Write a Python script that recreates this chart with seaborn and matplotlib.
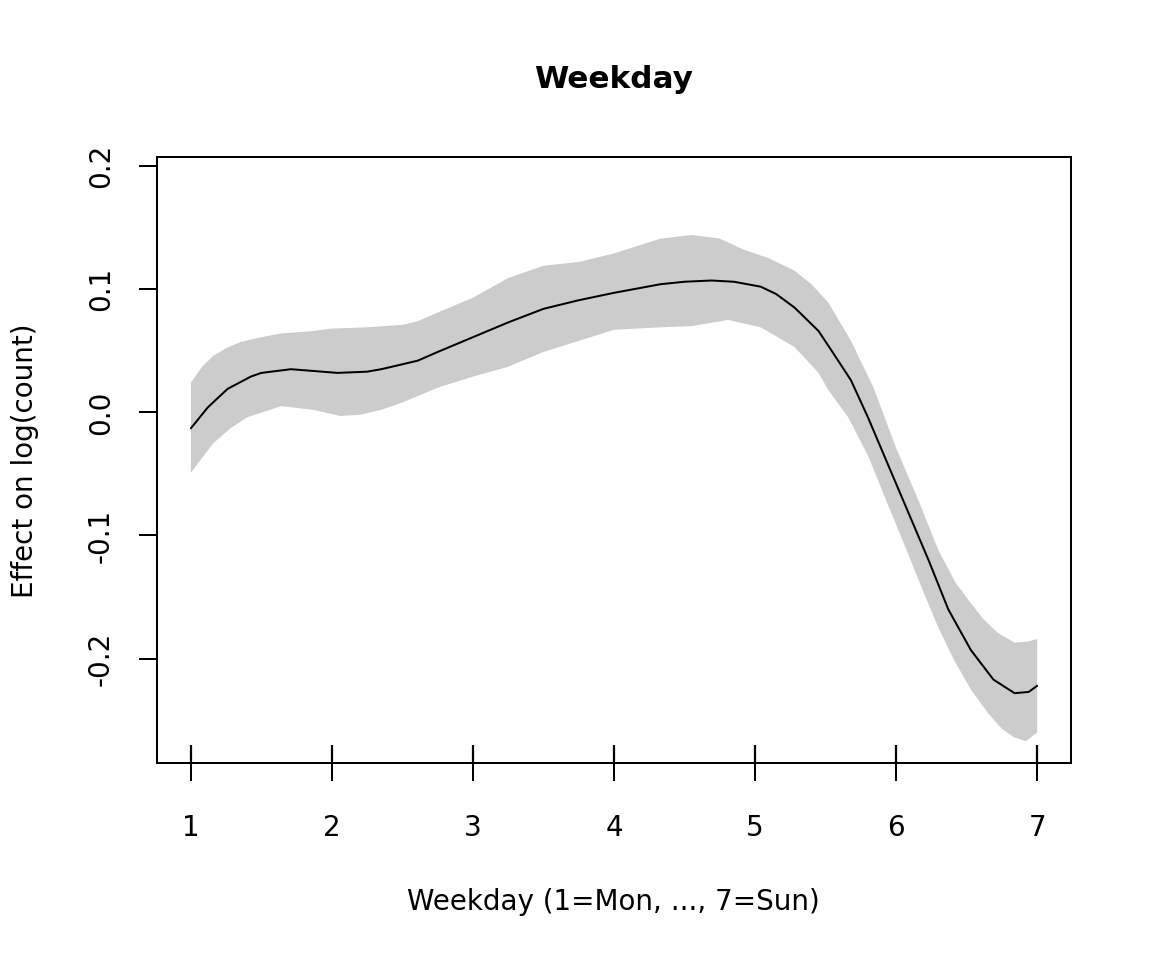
import numpy as np
import pandas as pd
import matplotlib
matplotlib.use("Agg")
import matplotlib.pyplot as plt
import seaborn as sns

# smooth effect of weekday
line_x = [1.0, 1.12, 1.26, 1.425, 1.5, 1.71, 2.04, 2.25, 2.35, 2.5, 2.61,
          2.75, 3.0, 3.25, 3.5, 3.75, 4.0, 4.33, 4.5, 4.69, 4.85, 5.04,
          5.15, 5.28, 5.45, 5.56, 5.68, 5.8, 6.0, 6.23, 6.37, 6.53, 6.69,
          6.84, 6.94, 7.0]
line_y = [-0.013, 0.004, 0.019, 0.029, 0.032, 0.035, 0.032, 0.033, 0.035,
          0.039, 0.042, 0.049, 0.061, 0.073, 0.084, 0.091, 0.097, 0.104,
          0.106, 0.107, 0.106, 0.102, 0.096, 0.085, 0.066, 0.047, 0.026,
          -0.004, -0.058, -0.120, -0.160, -0.193, -0.217, -0.228, -0.227,
          -0.222]

# upper edge of the confidence band
upper_x = [1.0, 1.08, 1.16, 1.25, 1.35, 1.5, 1.64, 1.87, 2.0, 2.25, 2.5,
           2.61, 2.75, 3.0, 3.25, 3.5, 3.75, 4.0, 4.33, 4.55, 4.75, 4.92,
           5.1, 5.28, 5.4, 5.52, 5.68, 5.84, 6.0, 6.16, 6.3, 6.42, 6.53,
           6.62, 6.72, 6.84, 6.94, 7.0]
upper_y = [0.024, 0.037, 0.046, 0.052, 0.057, 0.061, 0.064, 0.066, 0.068,
           0.069, 0.071, 0.074, 0.081, 0.093, 0.109, 0.119, 0.122, 0.129,
           0.141, 0.144, 0.141, 0.132, 0.125, 0.115, 0.104, 0.089, 0.058,
           0.020, -0.029, -0.072, -0.112, -0.138, -0.155, -0.168, -0.179,
           -0.187, -0.186, -0.184]

# lower edge of the confidence band
lower_x = [1.0, 1.08, 1.16, 1.28, 1.4, 1.64, 1.87, 2.06, 2.2, 2.35, 2.5,
           2.75, 3.0, 3.25, 3.5, 3.75, 4.0, 4.33, 4.55, 4.81, 5.04, 5.28,
           5.45, 5.52, 5.66, 5.8, 5.96, 6.05, 6.18, 6.3, 6.41, 6.53, 6.65,
           6.75, 6.84, 6.92, 7.0]
lower_y = [-0.049, -0.037, -0.025, -0.013, -0.004, 0.005, 0.002, -0.003,
           -0.002, 0.002, 0.008, 0.020, 0.029, 0.037, 0.049, 0.058, 0.067,
           0.069, 0.070, 0.075, 0.069, 0.053, 0.032, 0.018, -0.004, -0.035,
           -0.080, -0.105, -0.142, -0.175, -0.201, -0.225, -0.244, -0.257,
           -0.264, -0.267, -0.260]

# observed weekday values for the rug
rug_days = [1, 2, 3, 4, 5, 6, 7]

xticks = [1, 2, 3, 4, 5, 6, 7]
yticks = [-0.2, -0.1, 0.0, 0.1, 0.2]
ytick_labels = ["-0.2", "-0.1", "0.0", "0.1", "0.2"]


def main():
    df = pd.DataFrame({"weekday": line_x, "effect": line_y})
    band_x = upper_x + lower_x[::-1]
    band_y = upper_y + lower_y[::-1]

    sns.set_style("white")
    plt.rcParams['font.family'] = ["DejaVu Sans"]
    plt.rcParams['font.size'] = 12.5
    plt.rcParams['text.color'] = "black"
    plt.rcParams['axes.labelcolor'] = "black"
    plt.rcParams['xtick.color'] = "black"
    plt.rcParams['ytick.color'] = "black"

    fig = plt.figure(figsize=(7.2, 6), dpi=160)
    ax = fig.add_axes([0.1363, 0.2052, 0.7934, 0.6313])

    ax.fill(band_x, band_y, color="#CCCCCC", lw=0)
    sns.lineplot(data=df, x="weekday", y="effect", ax=ax, color="black",
                 lw=0.9, estimator=None, sort=False)
    sns.rugplot(x=rug_days, ax=ax, height=0.03, color="black", lw=0.9,
                expand_margins=False)

    ax.set_xlim(0.76, 7.24)
    ax.set_ylim(-0.2847, 0.2073)
    ax.set_xticks(xticks)
    ax.set_xticklabels([str(t) for t in xticks])
    ax.set_yticks(yticks)
    ax.set_yticklabels(ytick_labels, rotation=90, va="center")
    ax.tick_params(axis="both", direction="out", length=7.9, width=0.9,
                   color="black", labelsize=12.5, labelcolor="black")
    ax.tick_params(axis="x", pad=15, bottom=True)
    ax.tick_params(axis="y", pad=11, left=True)
    for s in ax.spines.values():
        s.set_visible(True)
        s.set_color("black")
        s.set_linewidth(0.9)
    ax.set_xlabel("")
    ax.set_ylabel("")

    fig.text(0.5326, 0.9167, "Weekday", ha="center", va="center",
             fontsize=14, fontweight="bold")
    fig.text(0.5326, 0.0604, "Weekday (1=Mon, ..., 7=Sun)", ha="center",
             va="center", fontsize=12.5)
    fig.text(0.0215, 0.520, "Effect on log(count)", ha="center",
             va="center", rotation=90, fontsize=12.5)

    fig.savefig("out.png", dpi=160)


if __name__ == "__main__":
    main()
